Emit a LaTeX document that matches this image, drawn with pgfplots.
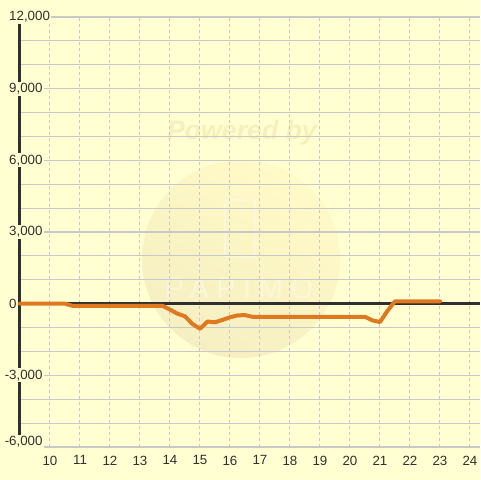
\documentclass[border=0pt]{standalone}
\usepackage{fontspec}
\setmainfont{Liberation Sans}
\usepackage{pgfplots}
\pgfplotsset{compat=1.18}
\definecolor{bg}{HTML}{FFFFD2}
\definecolor{gridc}{HTML}{C8C8C8}
\definecolor{axisc}{HTML}{303030}
\definecolor{profit}{HTML}{E07820}
\definecolor{wmtext}{HTML}{F8F0BA}
\definecolor{wmA}{HTML}{FFFAC6}
\definecolor{wmB}{HTML}{F5EFC2}

\begin{document}
\begin{tikzpicture}[x=1pt,y=1pt]
% page background (480x480 px, 1 px = 0.75 pt, origin at axis corner)
\fill[bg] (-15,-24.75) rectangle (345,335.25);
% watermark
\shade[left color=wmA, right color=wmB, shading angle=-30] (165.75,141) circle (74.25);
\node[text=wmtext, font=\bfseries\itshape\fontsize{20}{20}\selectfont] at (166.5,235.5) {Powered by};
\draw[white, opacity=0.5, line width=0.9pt, rounded corners=2pt] (153.75,142.5) rectangle (176.25,185.25);
\node[text=white, opacity=0.35, font=\fontsize{22}{22}\selectfont\addfontfeatures{LetterSpace=25}] at (164.25,119.25) {PAPIMO};
\begin{axis}[
    at={(0,0)}, anchor=south west,
    scale only axis,
    width=345pt, height=322.5pt,
    xmin=9, xmax=24.3333,
    ymin=-6000, ymax=12000,
    clip=false,
    axis x line*=bottom, axis y line*=left,
    x axis line style={draw=none, -},
    y axis line style={axisc, line width=2.25pt, -},
    major tick length=0pt, minor tick length=0pt,
    xtick={10,...,24},
    scaled y ticks=false,
    ytick={-6000,-3000,0,3000,6000,9000,12000},
    yticklabels={{\raisebox{9pt}{\llap{-}6,000}},{\llap{-}3,000},{0},{3,000},{6,000},{9,000},{12,000}},
    minor y tick num=2,
    xmajorgrids, ymajorgrids, yminorgrids,
    y grid style={gridc, line width=0.8pt},
    x grid style={gridc, line width=0.75pt, dash pattern=on 2.25pt off 2.25pt},
    tick label style={font=\fontsize{10}{12}\selectfont, text=axisc},
    yticklabel style={anchor=west, xshift=-9.3pt, fill=bg, inner sep=1pt},
    xticklabel style={yshift=-3pt},
    /pgf/number format/assume math mode=true,
]
% zero line
\addplot[axisc, line width=2pt] coordinates {(9,0) (24.3333,0)};
\addplot[profit, line width=3pt, line join=round, line cap=round] coordinates {
(9,0) (10.5,0) (10.75,-90) (13.75,-90) (14,-250) (14.25,-420) (14.5,-530)
(14.75,-850) (15,-1050) (15.25,-750) (15.5,-780) (15.75,-680) (16,-570)
(16.25,-490) (16.5,-480) (16.75,-550) (17,-550) (20.5,-550) (20.75,-700)
(21,-770) (21.25,-300) (21.5,100) (23,100)
};
\end{axis}
\pgfresetboundingbox
\useasboundingbox (-15,-24.75) rectangle (345,335.25);
\end{tikzpicture}
\end{document}
